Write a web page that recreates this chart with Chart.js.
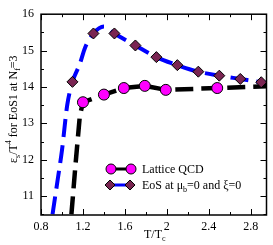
<!DOCTYPE html>
<html>
<head>
<meta charset="utf-8">
<script src="https://cdn.jsdelivr.net/npm/chart.js@4.4.0/dist/chart.umd.min.js"></script>
<style>
  html, body { margin: 0; padding: 0; background: #fff; }
  #wrap { width: 273px; height: 245px; }
</style>
</head>
<body>
<div id="wrap"><canvas id="my_chart" width="273" height="245"></canvas></div>
<script>
// lattice QCD points (magenta circles)
const latticeT = [1.2, 1.4, 1.59, 1.79, 1.99, 2.48];
const latticeE = [13.58, 13.79, 13.97, 14.03, 13.92, 13.97];

// black dashed curve through the lattice points
const latticeFitT = [1.09, 1.13, 1.17, 1.2, 1.4, 1.59, 1.79, 1.99, 2.48, 2.95];
const latticeFitE = [10.5, 11.9, 13.2, 13.58, 13.79, 13.97, 14.03, 13.92, 13.97, 14.02];

// EoS diamonds
const eosT = [1.1, 1.3, 1.5, 1.7, 1.9, 2.1, 2.3, 2.5, 2.7, 2.9];
const eosE = [14.14, 15.47, 15.47, 15.14, 14.82, 14.6, 14.42, 14.31, 14.22, 14.13];

// blue dashed EoS curve
const eosCurveT = [0.91, 0.96, 1.0, 1.05, 1.1, 1.17, 1.22, 1.3, 1.4, 1.5, 1.7, 1.9, 2.1, 2.3, 2.5, 2.7, 2.9, 2.95];
const eosCurveE = [10.5, 11.47, 12.26, 13.5, 14.14, 14.63, 15.08, 15.47, 15.66, 15.47, 15.14, 14.82, 14.6, 14.42, 14.31, 14.22, 14.13, 14.11];

const xTicks = [0.8, 1.2, 1.6, 2.0, 2.4, 2.8];
const yTicks = [11, 12, 13, 14, 15, 16];

const serif = '"Liberation Serif", "Times New Roman", serif';

function pts(xs, ys) {
    return xs.map((x, i) => ({x: x, y: ys[i]}));
}

// frame, inward ticks, axis titles and the legend
const decor = {
    id: 'decor',
    afterDraw(chart) {
        const ctx = chart.ctx;
        const a = chart.chartArea;
        const xs = chart.scales.x, ys = chart.scales.y;
        ctx.save();
        ctx.strokeStyle = '#000';
        ctx.lineWidth = 1.5;
        ctx.strokeRect(a.left, a.top, a.right - a.left, a.bottom - a.top);

        ctx.lineWidth = 1;
        ctx.beginPath();
        for (let v = 0.8; v <= 2.95; v += 0.2) {
            const px = Math.round(xs.getPixelForValue(v)) + 0.5;
            const major = Math.abs((v - 0.8) / 0.4 - Math.round((v - 0.8) / 0.4)) < 0.01;
            const len = major ? 6 : 3;
            ctx.moveTo(px, a.bottom); ctx.lineTo(px, a.bottom - len);
            ctx.moveTo(px, a.top); ctx.lineTo(px, a.top + len);
        }
        for (let v = 10.5; v <= 16; v += 0.5) {
            const py = Math.round(ys.getPixelForValue(v)) + 0.5;
            const len = (v % 1 === 0) ? 6 : 3;
            ctx.moveTo(a.left, py); ctx.lineTo(a.left + len, py);
            ctx.moveTo(a.right, py); ctx.lineTo(a.right - len, py);
        }
        ctx.stroke();

        ctx.fillStyle = '#000';
        ctx.textBaseline = 'alphabetic';

        // x title T/T_c
        ctx.font = '12px ' + serif;
        ctx.textAlign = 'left';
        let tx = 144, ty = 238;
        ctx.fillText('T/T', tx, ty);
        let w = ctx.measureText('T/T').width;
        ctx.font = '8px ' + serif;
        ctx.fillText('c', tx + w, ty + 3);

        // y title, rotated
        ctx.save();
        ctx.translate(17, 163);
        ctx.rotate(-Math.PI / 2);
        const parts = [
            ['\u03b5', 0], ['s', 1], ['/T', 0], ['4', -1],
            [' for EoS1 at N', 0], ['f', 1], ['=3', 0]
        ];
        let cx = 0;
        for (const p of parts) {
            ctx.font = (p[1] === 0 ? '12px ' : '8px ') + serif;
            ctx.fillText(p[0], cx, p[1] === 0 ? 0 : (p[1] > 0 ? 3 : -6));
            cx += ctx.measureText(p[0]).width;
        }
        ctx.restore();

        // legend
        ctx.lineWidth = 3;
        ctx.setLineDash([]);
        ctx.strokeStyle = '#000';
        ctx.beginPath(); ctx.moveTo(111, 169); ctx.lineTo(130, 169); ctx.stroke();
        ctx.strokeStyle = '#0000ff';
        ctx.beginPath(); ctx.moveTo(110, 185); ctx.lineTo(130, 185); ctx.stroke();
        ctx.lineWidth = 1;
        ctx.strokeStyle = '#000';
        for (const lx of [110, 130]) {
            ctx.fillStyle = '#ff00ff';
            ctx.beginPath(); ctx.arc(lx + 1, 169, 5, 0, Math.PI * 2); ctx.fill(); ctx.stroke();
            ctx.fillStyle = '#7a2552';
            ctx.beginPath();
            ctx.moveTo(lx, 185 - 5); ctx.lineTo(lx + 5, 185); ctx.lineTo(lx, 185 + 5); ctx.lineTo(lx - 5, 185);
            ctx.closePath(); ctx.fill(); ctx.stroke();
        }
        ctx.fillStyle = '#000';
        ctx.font = '12px ' + serif;
        ctx.fillText('Lattice QCD', 142, 173);
        const leg = [['EoS at \u03bc', 0], ['b', 1], ['=0 and \u03be=0', 0]];
        cx = 142;
        for (const p of leg) {
            ctx.font = (p[1] === 0 ? '12px ' : '8px ') + serif;
            ctx.fillText(p[0], cx, p[1] === 0 ? 189 : 192);
            cx += ctx.measureText(p[0]).width;
        }
        ctx.restore();
    }
};

const ctx = document.getElementById('my_chart');

new Chart(ctx, {
    type: 'scatter',
    data: {
        datasets: [
            {
                label: 'Lattice QCD',
                data: pts(latticeT, latticeE),
                showLine: false,
                pointStyle: 'circle',
                pointRadius: 5.5,
                pointBackgroundColor: '#ff00ff',
                pointBorderColor: '#000',
                pointBorderWidth: 1,
                order: 0
            },
            {
                label: 'EoS at mu_b=0 and xi=0',
                data: pts(eosT, eosE),
                showLine: false,
                pointStyle: 'rectRot',
                pointRadius: 5.5,
                pointBackgroundColor: '#7a2552',
                pointBorderColor: '#000',
                pointBorderWidth: 1,
                order: 0
            },
            {
                label: 'lattice fit',
                data: pts(latticeFitT, latticeFitE),
                showLine: true,
                pointRadius: 0,
                borderColor: '#000',
                borderWidth: 4.5,
                borderDash: [18, 8],
                tension: 0,
                order: 1
            },
            {
                label: 'eos curve',
                data: pts(eosCurveT, eosCurveE),
                showLine: true,
                pointRadius: 0,
                borderColor: '#0000ff',
                borderWidth: 4,
                borderDash: [18, 8],
                cubicInterpolationMode: 'monotone',
                order: 1
            }
        ]
    },
    options: {
        responsive: false,
        animation: false,
        events: [],
        layout: { padding: { left: 0, top: 5, right: 5, bottom: 0 } },
        plugins: {
            legend: { display: false },
            tooltip: { enabled: false }
        },
        scales: {
            x: {
                type: 'linear',
                min: 0.8,
                max: 2.95,
                afterFit: s => { s.height = 30; },
                afterBuildTicks: s => { s.ticks = xTicks.map(v => ({value: v})); },
                grid: { display: false, drawTicks: false },
                border: { display: false },
                ticks: {
                    padding: 5,
                    color: '#000',
                    font: { family: serif, size: 12 },
                    callback: v => (Math.abs(v - 2) < 1e-9 ? '2' : v.toFixed(1))
                }
            },
            y: {
                type: 'linear',
                min: 10.48,
                max: 16,
                afterFit: s => { s.width = 41; },
                afterBuildTicks: s => { s.ticks = yTicks.map(v => ({value: v})); },
                grid: { display: false, drawTicks: false },
                border: { display: false },
                ticks: {
                    padding: 7,
                    color: '#000',
                    font: { family: serif, size: 12 }
                }
            }
        }
    },
    plugins: [decor]
});
</script>
</body>
</html>
